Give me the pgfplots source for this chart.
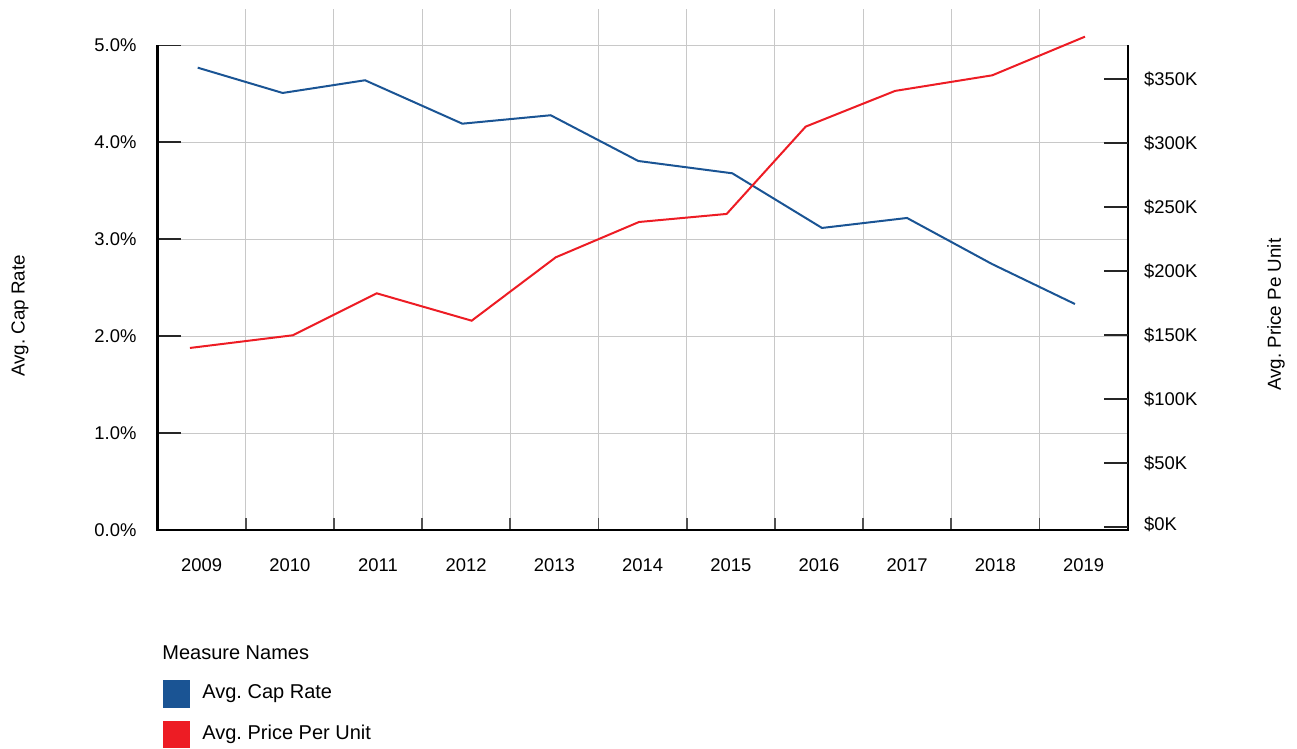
\documentclass[border=0pt]{standalone}
\usepackage{fontspec}
\setmainfont{Liberation Sans}
\usepackage{pgfplots}
\pgfplotsset{compat=1.18}
\definecolor{capblue}{RGB}{26,84,148}
\definecolor{pricered}{RGB}{237,28,36}
\definecolor{gridgray}{RGB}{200,200,200}
\definecolor{tickgray}{RGB}{80,80,80}
\frenchspacing
\begin{document}
\frenchspacing
\begin{tikzpicture}
\useasboundingbox (-78.75pt,-109.5pt) rectangle (569.75pt,265pt);
\begin{axis}[
  at={(0pt,0pt)}, anchor=south west,
  scale only axis, width=485.1pt, height=260.5pt,
  xmin=2009, xmax=2020, ymin=0, ymax=5.3767,
  clip=false,
  axis line style={draw=none},
  tick align=inside,
  xtick={2009.5,2010.5,2011.5,2012.5,2013.5,2014.5,2015.5,2016.5,2017.5,2018.5,2019.5},
  xticklabels={2009,2010,2011,2012,2013,2014,2015,2016,2017,2018,2019},
  minor xtick={2010,2011,2012,2013,2014,2015,2016,2017,2018,2019},
  xtick pos=bottom,
  major x tick style={draw=none},
  minor x tick style={draw=tickgray, line width=0.9pt},
  minor tick length=6pt,
  major tick length=12pt,
  xminorgrids=true,
  minor grid style={color=gridgray, line width=0.55pt},
  ytick={0,1,2,3,4,5},
  yticklabels={0.0\%,1.0\%,2.0\%,3.0\%,4.0\%,5.0\%},
  ytick pos=left,
  ymajorgrids=true,
  major grid style={color=gridgray, line width=0.55pt},
  major y tick style={draw=black!85, line width=0.9pt},
  tick label style={font=\fontsize{9.2}{11}\selectfont},
  xticklabel style={yshift=-11pt},
  yticklabel style={xshift=-7pt},
  ylabel={Avg. Cap Rate},
  ylabel style={at={(axis description cs:-0.1417,0.411)}, anchor=center, font=\fontsize{9.4}{11}\selectfont},
]
\addplot[color=capblue, line width=1pt] coordinates {
  (2009.456,4.771) (2010.419,4.510) (2011.353,4.641) (2012.456,4.193)
  (2013.458,4.280) (2014.451,3.808) (2015.517,3.681) (2016.534,3.117)
  (2017.498,3.220) (2018.461,2.745) (2019.402,2.332)
};
\draw[black, line width=1.1pt] (axis cs:2009,5) -- (axis cs:2009,0) -- (axis cs:2020,0) -- (axis cs:2020,5);
\end{axis}
\begin{axis}[
  at={(0pt,0pt)}, anchor=south west,
  scale only axis, width=485.1pt, height=260.5pt,
  xmin=2009, xmax=2020, ymin=-2.11, ymax=404.9,
  axis line style={draw=none},
  tick align=inside,
  xtick=\empty,
  ytick={0,50,100,150,200,250,300,350},
  yticklabels={\raisebox{3.3pt}{\$0K},\$50K,\$100K,\$150K,\$200K,\$250K,\$300K,\$350K},
  ytick pos=right,
  yticklabel pos=right,
  major tick length=12pt,
  major y tick style={draw=black!85, line width=0.9pt},
  tick label style={font=\fontsize{9.2}{11}\selectfont},
  yticklabel style={xshift=4.7pt},
  ylabel={Avg. Price Pe Unit},
  ylabel style={at={(axis description cs:1.1529,0.413)}, anchor=center, font=\fontsize{9.4}{11}\selectfont},
]
\addplot[color=pricered, line width=1pt] coordinates {
  (2009.368,140.1) (2010.533,150.0) (2011.485,182.8) (2012.562,161.4)
  (2013.515,210.9) (2014.459,238.5) (2015.453,244.8) (2016.349,313.0)
  (2017.362,340.9) (2018.465,353.1) (2019.516,383.3)
};
\end{axis}
\node[anchor=west, inner sep=0pt, font=\fontsize{10}{12}\selectfont] at (2.25pt,-61.5pt) {Measure Names};
\fill[capblue] (2.6pt,-75pt) rectangle (16.25pt,-88.85pt);
\fill[pricered] (2.6pt,-95.35pt) rectangle (16.25pt,-109pt);
\node[anchor=west, inner sep=0pt, font=\fontsize{10}{12}\selectfont] at (22.25pt,-82pt) {Avg.\ Cap Rate};
\node[anchor=west, inner sep=0pt, font=\fontsize{10}{12}\selectfont] at (22.25pt,-102pt) {Avg.\ Price Per Unit};
\end{tikzpicture}
\end{document}
